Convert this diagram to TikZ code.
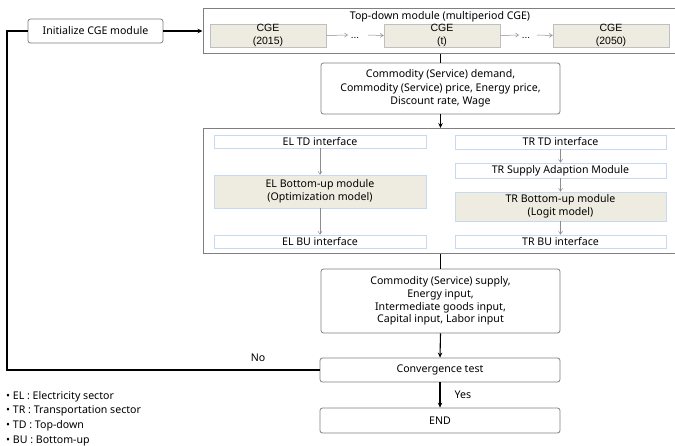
\documentclass[tikz,border=0pt]{standalone}
\usepackage{fontspec}
\setmainfont{Noto Sans}
\newfontfamily\arialfont{Liberation Sans}
\usetikzlibrary{arrows.meta}
\definecolor{beige}{HTML}{EEECE1}
\definecolor{boxgray}{HTML}{7F7F7F}
\definecolor{ifblue}{HTML}{C6D9F1}
\begin{document}
\begin{tikzpicture}[x=1pt,y=-1pt,
  font=\fontsize{10.6}{13.3}\selectfont,
  mainbox/.style={draw=boxgray,line width=0.8pt,rounded corners=2.5pt,fill=white,align=center,inner sep=0pt},
  outerbox/.style={draw=boxgray,line width=1pt,inner sep=0pt},
  cgebox/.style={draw=black!25,line width=0.6pt,fill=beige,align=center,inner sep=0pt,font=\arialfont\fontsize{10.5}{12.5}\selectfont},
  ifbox/.style={draw=ifblue,line width=0.6pt,fill=white,align=center,inner sep=0pt},
  bubox/.style={draw=ifblue,line width=0.6pt,fill=beige,align=center,inner sep=0pt},
  conn/.style={line width=1.1pt,black},
  connarr/.style={conn,-{Stealth[length=5pt,width=4.5pt]}},
  thinarr/.style={draw=black!45,line width=0.5pt,-{Straight Barb[length=3pt,width=4pt]}},
]
\useasboundingbox (0,0) rectangle (675,446);
\clip (0,0) rectangle (675,446);

% Initialize
\node[mainbox,minimum width=135pt,minimum height=24pt] (init) at (95.5,31) {Initialize CGE module};

% Top-down module
\node[outerbox,minimum width=476pt,minimum height=45pt] (td) at (441,31) {};
\node[inner sep=0pt] (tdtitle) at (440,17) {Top-down module (multiperiod CGE)};
\node[cgebox,minimum width=116pt,minimum height=23pt] (c1) at (268,35.5) {CGE\\(2015)};
\node[cgebox,minimum width=116pt,minimum height=23pt] (c2) at (442,35.5) {CGE\\(t)};
\node[cgebox,minimum width=116pt,minimum height=23pt] (c3) at (611,35.5) {CGE\\(2050)};
\node[inner sep=0pt,font=\arialfont\fontsize{10}{10}\selectfont] (d1) at (355,38) {...};
\node[inner sep=0pt,font=\arialfont\fontsize{10}{10}\selectfont] (d2) at (526,38) {...};
\coordinate (a1e) at (348,35);
\coordinate (a1s) at (368,35);
\coordinate (a2e) at (519,35);
\coordinate (a2s) at (537,35);
\draw[thinarr] (c1.east) -- (a1e);
\draw[thinarr] (a1s) -- (c2.west);
\draw[thinarr] (c2.east) -- (a2e);
\draw[thinarr] (a2s) -- (c3.west);

% Demand box
\node[mainbox,minimum width=239pt,minimum height=51pt] (dem) at (440.5,88.5) {Commodity (Service) demand,\\Commodity (Service) price, Energy price,\\Discount rate, Wage};

% Middle module
\node[outerbox,minimum width=476pt,minimum height=125pt] (mid) at (441,191) {};
\node[ifbox,minimum width=212pt,minimum height=13pt] (eltd) at (320,141.5) {EL TD interface};
\node[bubox,minimum width=212pt,minimum height=33pt] (elbu) at (320,191.5) {EL Bottom-up module\\(Optimization model)};
\node[ifbox,minimum width=212pt,minimum height=13pt] (elbi) at (320,241.5) {EL BU interface};
\node[ifbox,minimum width=211pt,minimum height=14pt] (trtd) at (560.5,142) {TR TD interface};
\node[ifbox,minimum width=211pt,minimum height=15pt] (trsa) at (560.5,170.5) {TR Supply Adaption Module};
\node[bubox,minimum width=211pt,minimum height=29pt] (trbu) at (560.5,206.5) {TR Bottom-up module\\(Logit model)};
\node[ifbox,minimum width=211pt,minimum height=13pt] (trbi) at (560.5,241.5) {TR BU interface};
\draw[thinarr] (eltd) -- (elbu);
\draw[thinarr] (elbu) -- (elbi);
\draw[thinarr] (trtd) -- (trsa);
\draw[thinarr] (trsa) -- (trbu);
\draw[thinarr] (trbu) -- (trbi);

% Supply box
\node[mainbox,minimum width=239pt,minimum height=64pt,font=\fontsize{10.6}{12.6}\selectfont] (sup) at (440.5,301) {Commodity (Service) supply,\\Energy input,\\Intermediate goods input,\\Capital input, Labor input};

% Convergence and END
\node[mainbox,minimum width=240pt,minimum height=24pt] (conv) at (440,370) {Convergence test};
\node[mainbox,minimum width=240pt,minimum height=25pt] (endb) at (440,420.5) {END};

% Connectors
\draw[connarr] (init.east) -- (td.west |- init.east);
\draw[conn] (td.south -| dem.north) -- (dem.north);
\draw[connarr] (dem.south) -- (mid.north -| dem.south);
\draw[conn] (mid.south -| sup.north) -- (sup.north);
\draw[connarr] (sup.south) -- (conv.north);
\draw[connarr] (conv.south) -- (endb.north);
\coordinate (fbl) at (7,370);
\draw[conn] (conv.west) -- (fbl) |- (init.west);
\node (yes) at (463,395) {Yes};
\node (no) at (258,358) {No};

% Legend
\node[anchor=west,align=left,font=\fontsize{10.6}{14.6}\selectfont,inner sep=0pt] (leg) at (6,418.5) {\textbullet\ EL : Electricity sector\\\textbullet\ TR : Transportation sector\\\textbullet\ TD : Top-down\\\textbullet\ BU : Bottom-up};
\end{tikzpicture}
\end{document}
